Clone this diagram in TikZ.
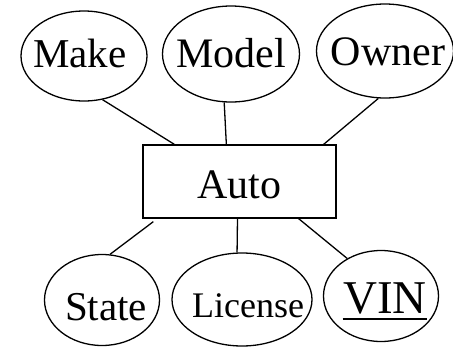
\documentclass[tikz,border=0pt]{standalone}
\usepackage{fontspec}
\setmainfont{Liberation Serif}
\usetikzlibrary{shapes.geometric}

\begin{document}
\begin{tikzpicture}[x=1pt, y=-1pt, line width=1.3pt,
  attr/.style={draw, ellipse, inner sep=0pt},
  entity/.style={draw, rectangle, inner sep=0pt, minimum width=193, minimum height=73},
  lbl/.style={anchor=base, inner sep=0pt}]
  \useasboundingbox (0,0) rectangle (453,346);
  % entity
  \node[entity] (auto) at (239.5,181.5) {};
  \node[lbl] (auto-t) at (239,198) {\fontsize{42}{42}\selectfont Auto};
  % attributes on top
  \node[attr, minimum width=126, minimum height=90] (make) at (84,56) {};
  \node[lbl] (make-t) at (80,67) {\fontsize{41}{41}\selectfont Make};
  \node[attr, minimum width=137, minimum height=96] (model) at (231,54) {};
  \node[lbl] (model-t) at (231,67) {\fontsize{42}{42}\selectfont Model};
  \node[attr, minimum width=137, minimum height=94] (owner) at (385,51) {};
  \node[lbl] (owner-t) at (388,65) {\fontsize{42}{42}\selectfont Owner};
  % attributes below
  \node[attr, minimum width=115, minimum height=91] (state) at (102,300) {};
  \node[lbl] (state-t) at (106,320) {\fontsize{41}{41}\selectfont State};
  \node[attr, minimum width=140, minimum height=93] (license) at (242,299.5) {};
  \node[lbl] (license-t) at (248,317) {\fontsize{36}{36}\selectfont License};
  \node[attr, minimum width=115, minimum height=91] (vin) at (381,296) {};
  \node[lbl] (vin-t) at (385,313) {\fontsize{47}{47}\selectfont VIN};
  \draw[line width=2pt] ([yshift=-6]vin-t.base west) -- ([yshift=-6]vin-t.base east);
  % links
  \draw (make.-67) -- ([xshift=32]auto.north west);
  \draw (model.-98) -- ([xshift=84]auto.north west);
  \draw (owner.-98) -- ([xshift=-13]auto.north east);
  \draw ([xshift=11,yshift=-3]auto.south west) -- (state.80);
  \draw ([xshift=-2]auto.south) -- (license.96);
  \draw ([xshift=-38]auto.south east) -- (vin.132);
\end{tikzpicture}
\end{document}
